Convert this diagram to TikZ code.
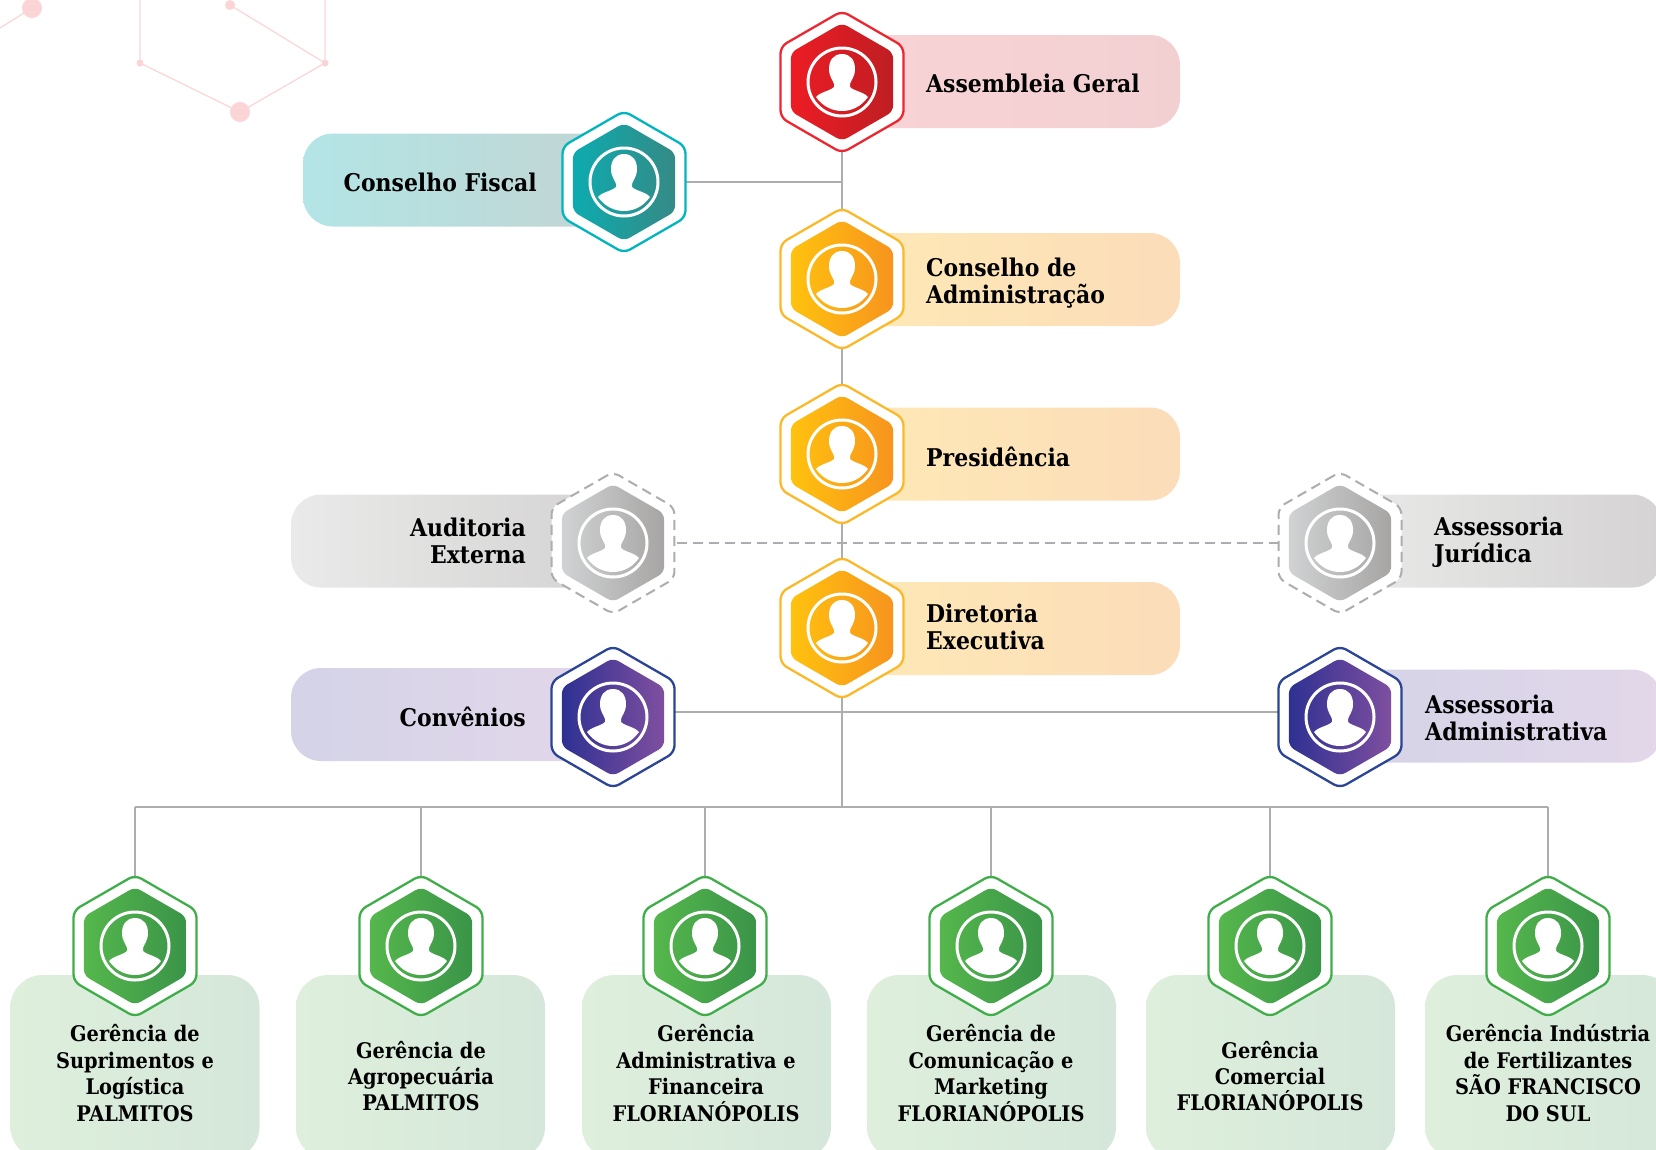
\documentclass[tikz,border=0pt]{standalone}
\usepackage{fontspec}
\setmainfont{DejaVu Serif Condensed}
\usetikzlibrary{shapes.geometric,backgrounds}
% colours
\definecolor{linegray}{HTML}{ABADB0}
\definecolor{decopink}{HTML}{FBD5D5}
\definecolor{redline}{HTML}{ED2630}
\definecolor{redL}{HTML}{ED1C24}
\definecolor{redR}{HTML}{BE1E23}
\definecolor{redpL}{HTML}{F9D3D6}
\definecolor{redpR}{HTML}{F2D0D2}
\definecolor{goldline}{HTML}{FBB92A}
\definecolor{goldL}{HTML}{FFC20E}
\definecolor{goldR}{HTML}{F7941E}
\definecolor{goldpL}{HTML}{FFE9B6}
\definecolor{goldpR}{HTML}{FBDDB9}
\definecolor{tealline}{HTML}{00B5BD}
\definecolor{tealL}{HTML}{0DABB0}
\definecolor{tealR}{HTML}{358A85}
\definecolor{tealpL}{HTML}{B3E5E6}
\definecolor{tealpR}{HTML}{C2D4D2}
\definecolor{grayL}{HTML}{D0D2D3}
\definecolor{grayR}{HTML}{A7A5A4}
\definecolor{graypL}{HTML}{E9EAE9}
\definecolor{graypR}{HTML}{D5D3D3}
\definecolor{purpleline}{HTML}{2B4496}
\definecolor{purpleL}{HTML}{2E3192}
\definecolor{purpleR}{HTML}{7F4F9F}
\definecolor{purplepL}{HTML}{D4D3E8}
\definecolor{purplepR}{HTML}{E3D7E9}
\definecolor{greenline}{HTML}{3FAE49}
\definecolor{greenL}{HTML}{55B74C}
\definecolor{greenR}{HTML}{3A9448}
\definecolor{greenpL}{HTML}{DEEFDC}
\definecolor{greenpR}{HTML}{D5E7DA}
\tikzset{
  hexout/.style={regular polygon, regular polygon sides=6, regular polygon rotate=30, minimum size=142pt,
    inner sep=0pt, rounded corners=7pt, fill=white, line width=2.3pt},
  hexin/.style={regular polygon, regular polygon sides=6, regular polygon rotate=30, minimum size=118pt,
    inner sep=0pt, rounded corners=6pt},
  ring/.style={circle, draw=white, line width=3pt, minimum size=68pt, inner sep=0pt},
  pillbox/.style={rectangle, rounded corners=30pt, inner sep=0pt, minimum height=93pt},
  lowbox/.style={rectangle, rounded corners=32pt, inner sep=0pt, minimum width=249pt, minimum height=184pt},
  lbl/.style={inner sep=0pt, font=\fontsize{24.4}{26.6}\selectfont\bfseries, text=black},
  lblleft/.style={lbl, anchor=west, align=left},
  lblright/.style={lbl, anchor=east, align=right},
  lblmid/.style={inner sep=0pt, font=\fontsize{21.5}{26.4}\selectfont\bfseries, text=black, align=center},
  link/.style={line width=2.6pt, draw=linegray},
  dashlink/.style={line width=2.2pt, draw=linegray, dash pattern=on 10pt off 6pt},
  person/.pic={
    \fill[white] (0,-28) .. controls (-9,-28) and (-13,-21) .. (-13,-13)
      .. controls (-13,-5) and (-9,-2) .. (-8,2) -- (-8,5)
      .. controls (-12,9) and (-22,10) .. (-26,15)
      .. controls (-19,25) and (-9,29) .. (0,29)
      .. controls (9,29) and (19,25) .. (26,15)
      .. controls (22,10) and (12,9) .. (8,5) -- (8,2)
      .. controls (9,-2) and (13,-5) .. (13,-13)
      .. controls (13,-21) and (9,-28) .. (0,-28) -- cycle;
  }
}
% name, position, colour
\newcommand{\hexicon}[3]{
  \node[hexout, draw=#3line] (#1) at (#2) {};
  \node[hexin, left color=#3L, right color=#3R] (#1in) at (#2) {};
  \node[ring] (#1ring) at (#2) {};
  \pic at (#2) {person};
}
\begin{document}
\begin{tikzpicture}[x=1pt,y=-1pt]
\clip (0,0) rectangle (1656,1149);
% background decoration
\draw[decopink, line width=1.2pt] (0,28) -- (32,8);
\draw[decopink, line width=1.2pt] (140,0) -- (140,63) -- (240,112) -- (325,63) -- (325,0);
\draw[decopink, line width=1.2pt] (325,63) -- (230,5);
\fill[decopink] (32,8) circle (10);
\fill[decopink] (240,112) circle (10);
\fill[decopink] (140,63) circle (3.5);
\fill[decopink] (325,63) circle (3.5);
\fill[decopink] (230,5) circle (5);
% pills
\node[pillbox, minimum width=338pt, left color=redpL, right color=redpR] (assembleiap) at (1011,81.5) {};
\node[pillbox, minimum width=321pt, left color=tealpL, right color=tealpR] (fiscalp) at (463.5,180) {};
\node[pillbox, minimum width=338pt, left color=goldpL, right color=goldpR] (adminp) at (1011,279.5) {};
\node[pillbox, minimum width=338pt, left color=goldpL, right color=goldpR] (presidenciap) at (1011,454) {};
\node[pillbox, minimum width=338pt, left color=goldpL, right color=goldpR] (diretoriap) at (1011,628.5) {};
\node[pillbox, minimum width=322pt, left color=graypL, right color=graypR] (auditoriap) at (452,541) {};
\node[pillbox, minimum width=322pt, left color=graypL, right color=graypR] (juridicap) at (1501,541) {};
\node[pillbox, minimum width=322pt, left color=purplepL, right color=purplepR] (conveniosp) at (452,714.5) {};
\node[pillbox, minimum width=322pt, left color=purplepL, right color=purplepR] (assessoriap) at (1501,716) {};
% lower boxes
\foreach \nm/\cx in {suprimentos/135, agro/420.5, financeira/706.5, comunic/991.5, comercial/1270.5, fertil/1549.5}
  \node[lowbox, left color=greenpL, right color=greenpR] (\nm p) at (\cx,1067) {};
% icons
\hexicon{assembleia}{842,82}{red}
\hexicon{fiscal}{624,182}{teal}
\hexicon{admin}{842,279}{gold}
\hexicon{presidencia}{842,454}{gold}
\hexicon{diretoria}{842,628}{gold}
\hexicon{convenios}{613,717}{purple}
\hexicon{assessoria}{1340,717}{purple}
% dashed ones
\node[hexout, draw=linegray, line width=2pt, dash pattern=on 10pt off 6pt] (auditoria) at (613,543) {};
\node[hexin, left color=grayL, right color=grayR] (auditoriain) at (613,543) {};
\node[ring] (auditoriaring) at (613,543) {};
\pic at (613,543) {person};
\node[hexout, draw=linegray, line width=2pt, dash pattern=on 10pt off 6pt] (juridica) at (1340,543) {};
\node[hexin, left color=grayL, right color=grayR] (juridicain) at (1340,543) {};
\node[ring] (juridicaring) at (1340,543) {};
\pic at (1340,543) {person};
\foreach \nm/\cx in {suprimentos/135, agro/421, financeira/705, comunic/991, comercial/1270, fertil/1548}
  \hexicon{\nm}{\cx,946}{green}
% connectors
\coordinate (tree) at (842,807);
\begin{scope}[on background layer]
\draw[link] (assembleia.center) -- (admin.center) -- (presidencia.center) -- (diretoria.center) -- (tree);
\draw[link] (fiscal.center) -- (fiscal -| assembleia);
\draw[dashlink] (auditoria.center) -- (juridica.center);
\draw[link] ([yshift=5pt]convenios.center) -- ([yshift=5pt]assessoria.center);
\draw[link] (suprimentos |- tree) -- (fertil |- tree);
\foreach \nm in {suprimentos, agro, financeira, comunic, comercial, fertil}
  \draw[link] (\nm.center) -- (\nm |- tree);
\end{scope}
% labels
\node[lblleft] (t1) at (926,83) {Assembleia Geral};
\node[lblright] (t2) at (537,182) {Conselho Fiscal};
\node[lblleft] (t3) at (926,283) {Conselho de\\Administração};
\node[lblleft] (t4) at (926,457) {Presidência};
\node[lblleft] (t5) at (926,627) {Diretoria\\Executiva};
\node[lblright] (t6) at (526,541) {Auditoria\\Externa};
\node[lblleft] (t7) at (1434,542) {Assessoria\\Jurídica};
\node[lblright] (t8) at (526,717) {Convênios};
\node[lblleft] (t9) at (1425,718) {Assessoria\\Administrativa};
\node[lblmid] (t10) at (135,1073) {Gerência de\\Suprimentos e\\Logística\\PALMITOS};
\node[lblmid] (t11) at (421,1076) {Gerência de\\Agropecuária\\PALMITOS};
\node[lblmid] (t12) at (706,1073) {Gerência\\Administrativa e\\Financeira\\FLORIANÓPOLIS};
\node[lblmid] (t13) at (991,1073) {Gerência de\\Comunicação e\\Marketing\\FLORIANÓPOLIS};
\node[lblmid] (t14) at (1270,1076) {Gerência\\Comercial\\FLORIANÓPOLIS};
\node[lblmid] (t15) at (1548,1073) {Gerência Indústria\\de Fertilizantes\\SÃO FRANCISCO\\DO SUL};
\end{tikzpicture}
\end{document}
